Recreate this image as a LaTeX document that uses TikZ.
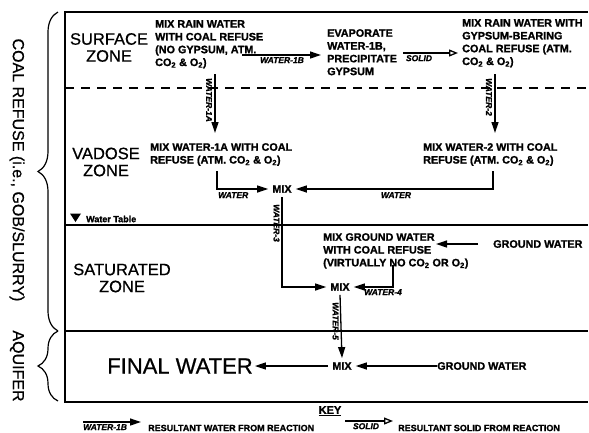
\documentclass[tikz,border=0pt]{standalone}
\usepackage{fontspec}
\setmainfont{Liberation Sans}[BoldFeatures={FakeBold=1.3},BoldItalicFeatures={FakeBold=1.3}]
\newfontfamily\medfont[FakeBold=0.7]{Liberation Sans}
\usetikzlibrary{arrows.meta,decorations.pathreplacing}
\begin{document}
\begin{tikzpicture}[x=1pt,y=-1pt,
  txt/.style={font=\fontsize{10.8}{12.8}\selectfont\bfseries, align=left, inner sep=0pt, anchor=north west},
  zone/.style={font=\medfont\fontsize{16.5}{17}\selectfont, align=center, inner sep=0pt},
  lab/.style={font=\fontsize{8.5}{8.5}\selectfont\bfseries\itshape, inner sep=0pt},
  mix/.style={font=\fontsize{10.8}{12}\selectfont\bfseries, inner sep=4pt},
  side/.style={font=\medfont\fontsize{16}{16}\selectfont, inner sep=0pt, rotate=-90},
  frame/.style={line width=1.4pt},
  flow/.style={-{Triangle[length=11pt,width=7pt]}, line width=1.3pt},
  solidflow/.style={-{Triangle[open,length=9pt,width=7pt]}, line width=1.3pt},
  brc/.style={decorate, decoration={brace, amplitude=20pt}, line width=1.2pt}]
\useasboundingbox (0,0) rectangle (589,432);

% frame and zone separators
\draw[frame] (588,12) -- (65,12) -- (65,402) -- (588,402);
\draw[line width=1.2pt, dash pattern=on 9pt off 7pt] (65,88) -- (588,88);
\draw[frame] (65,225) -- (588,225);
\draw[frame] (65,331) -- (588,331);

% braces and side labels
\draw[brc] (58,331) -- (58,12);
\draw[brc] (58,401) -- (58,331);
\node[side] (coal) at (17,170) {COAL REFUSE (i.e., GOB/SLURRY)};
\node[side] (aqu) at (17,366) {AQUIFER};

% zone names
\node[zone] (zsurf) at (109,47.5) {SURFACE\\ZONE};
\node[zone] (zvad) at (106,162) {VADOSE\\ZONE};
\node[zone] (zsat) at (122,278) {SATURATED\\ZONE};
\node[font=\medfont\fontsize{22}{22}\selectfont, inner sep=2pt] (final) at (180,366) {FINAL WATER};

% water table
\fill (70,213.5) -- (81,213.5) -- (75.5,222) -- cycle;
\node[font=\fontsize{9}{9}\selectfont\bfseries, anchor=west, inner sep=0pt] (wt) at (86,219) {Water Table};

% process texts
\node[txt] (s1) at (155,20) {MIX RAIN WATER\\WITH COAL REFUSE\\(NO GYPSUM, ATM.\\CO\textsubscript{2} \& O\textsubscript{2})};
\node[txt] (s2) at (327,29) {EVAPORATE\\WATER-1B,\\PRECIPITATE\\GYPSUM};
\node[txt] (s3) at (462,19) {MIX RAIN WATER WITH\\GYPSUM-BEARING\\COAL REFUSE (ATM.\\CO\textsubscript{2} \& O\textsubscript{2})};
\node[txt] (v1) at (150,143) {MIX WATER-1A WITH COAL\\REFUSE (ATM. CO\textsubscript{2} \& O\textsubscript{2})};
\node[txt] (v2) at (423,143) {MIX WATER-2 WITH COAL\\REFUSE (ATM. CO\textsubscript{2} \& O\textsubscript{2})};
\node[txt] (g1) at (323,233) {MIX GROUND WATER\\WITH COAL REFUSE\\(VIRTUALLY NO CO\textsubscript{2} OR O\textsubscript{2})};
\node[mix] (mix1) at (282,189) {MIX};
\node[mix] (mix2) at (340,287) {MIX};
\node[mix] (mix3) at (342,366) {MIX};
\node[txt, anchor=west] (gw1) at (493,244) {GROUND WATER};
\node[txt, anchor=west] (gw2) at (437,366) {GROUND WATER};

% flows
\coordinate (a1) at (242,55);
\coordinate (a2) at (321,55);
\draw[flow] (a1) -- (a2);
\node[lab, anchor=north] at (282,57) {WATER-1B};
\coordinate (b1) at (403,53);
\coordinate (b2) at (458,53);
\draw[solidflow] (b1) -- (b2);
\node[lab, anchor=north] at (419,55) {SOLID};

\coordinate (c1) at (215,74);
\coordinate (c2) at (215,133);
\draw[flow] (c1) -- (c2);
\node[lab, rotate=-90] at (209,100) {WATER-1A};
\coordinate (d1) at (495,74);
\coordinate (d2) at (495,133);
\draw[flow] (d1) -- (d2);
\node[lab, rotate=-90] at (489,97) {WATER-2};

\coordinate (e1) at (217,171);
\draw[flow] (e1) |- (mix1.west);
\node[lab, anchor=north west] at (218,192) {WATER};
\coordinate (f1) at (493,171);
\draw[flow] (f1) |- (mix1.east);
\node[lab, anchor=north] at (396,192) {WATER};

\draw[flow] (mix1.south) |- (mix2.west);
\node[lab, rotate=-90] at (276.5,223) {WATER-3};

\coordinate (h1) at (478,244);
\coordinate (h2) at (436,244);
\draw[flow] (h1) -- (h2);
\coordinate (k1) at (393,265);
\draw[flow] (k1) |- (mix2.east);
\node[lab, anchor=north west] at (364,289) {WATER-4};

\draw[flow] (mix2.south) -- (mix3.north);
\node[lab, rotate=-90] at (335.5,321) {WATER-5};
\draw[flow] (gw2.west) -- (mix3.east);
\draw[flow] (mix3.west) -- (final.east);

% key
\node[font=\fontsize{11}{11}\selectfont\bfseries, inner sep=0pt] (key) at (330,411) {\underline{KEY}};
\coordinate (p1) at (83,422);
\coordinate (p2) at (141,422);
\draw[flow] (p1) -- (p2);
\node[lab, anchor=north west] at (83,424) {WATER-1B};
\node[font=\fontsize{9}{9}\selectfont\bfseries, anchor=west, inner sep=0pt] (kw) at (148,428) {RESULTANT WATER FROM REACTION};
\coordinate (q1) at (345,421);
\coordinate (q2) at (393,421);
\draw[solidflow] (q1) -- (q2);
\node[lab, anchor=north] at (366,423) {SOLID};
\node[font=\fontsize{9}{9}\selectfont\bfseries, anchor=west, inner sep=0pt] (ks) at (398,428) {RESULTANT SOLID FROM REACTION};
\end{tikzpicture}
\end{document}
